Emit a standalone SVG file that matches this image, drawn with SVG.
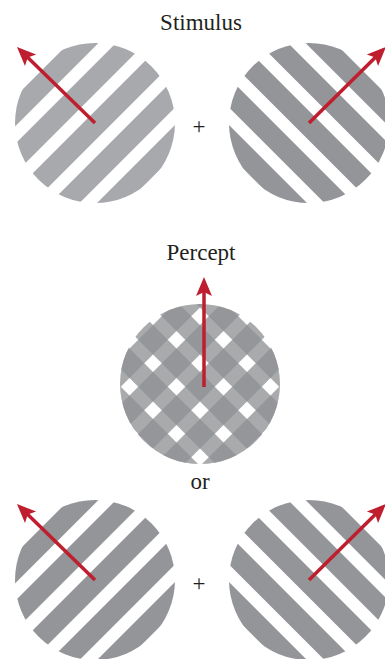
<svg xmlns="http://www.w3.org/2000/svg" xmlns:xlink="http://www.w3.org/1999/xlink" width="385" height="659" viewBox="0 0 385 659">
<style>
  .lbl { font-family: "Liberation Serif", "Times New Roman", serif; font-size: 23px; fill: #231f20; text-anchor: middle; }
  .arrow { stroke: #be1e2d; stroke-width: 3.5; fill: none; marker-end: url(#head); }
  .light { fill: #a7a9ac; }
  .dark { fill: #939598; }
  .plaid { fill: #8e9093; fill-opacity: 0.77; }
</style>
<defs>
  <clipPath id="disc"><circle cx="0" cy="0" r="80"/></clipPath>
  <marker id="head" markerUnits="userSpaceOnUse" markerWidth="20" markerHeight="16" viewBox="0 0 19 16" refX="5" refY="8" orient="auto" overflow="visible">
    <path d="M19,8 L0,0 L4,8 L0,16 Z" fill="#be1e2d"/>
  </marker>
  <g id="grating" clip-path="url(#disc)">
    <polygon points="-90,-16 90,-196 90,-166.5 -90,13.5"/>
    <polygon points="-90,31 90,-149 90,-119.5 -90,60.5"/>
    <polygon points="-90,78 90,-102 90,-72.5 -90,107.5"/>
    <polygon points="-90,125 90,-55 90,-25.5 -90,154.5"/>
    <polygon points="-90,172 90,-8 90,21.5 -90,201.5"/>
  </g>
</defs>
<rect width="385" height="659" fill="#ffffff"/>

<g id="title-stimulus"><text class="lbl" x="201" y="30">Stimulus</text></g>

<g id="stim-left"><use xlink:href="#grating" class="light" transform="translate(95,123)"/></g>
<g id="plus-top"><text class="lbl" x="199" y="134">+</text></g>
<g id="stim-right"><use xlink:href="#grating" class="dark" transform="translate(309,123) scale(-1,1)"/></g>

<g id="title-percept"><text class="lbl" x="201" y="260">Percept</text></g>
<g id="percept-plaid">
  <use xlink:href="#grating" class="plaid" transform="translate(200,384)"/>
  <use xlink:href="#grating" class="plaid" transform="translate(200,384) scale(-1,1)"/>
</g>

<g id="label-or"><text class="lbl" x="200" y="489">or</text></g>

<g id="alt-left"><use xlink:href="#grating" class="dark" transform="translate(95,580)"/></g>
<g id="plus-bottom"><text class="lbl" x="199" y="591">+</text></g>
<g id="alt-right"><use xlink:href="#grating" class="dark" transform="translate(309,580) scale(-1,1)"/></g>

<g id="connectors">
  <line class="arrow" x1="95" y1="123" x2="27" y2="56.8"/>
  <line class="arrow" x1="309" y1="123" x2="376" y2="56.8"/>
  <line class="arrow" x1="204" y1="387" x2="204" y2="291"/>
  <line class="arrow" x1="95" y1="580" x2="27" y2="513.8"/>
  <line class="arrow" x1="309" y1="580" x2="376" y2="513.8"/>
</g>
</svg>
